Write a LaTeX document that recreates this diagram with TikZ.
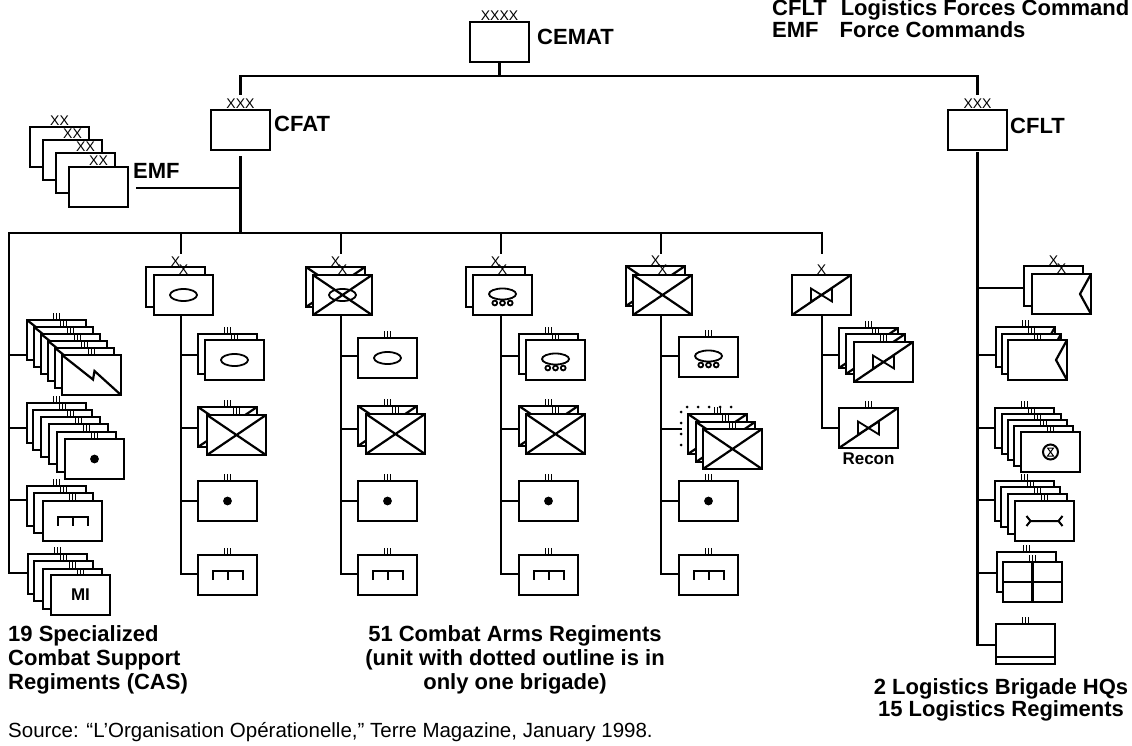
\documentclass[tikz,border=0pt]{standalone}
\usepackage{fontspec}
\setmainfont{Liberation Sans}
\usetikzlibrary{arrows.meta,positioning,calc}
\tikzset{
  conn/.style={line width=2.2pt, line cap=rect},
  tickmark/.style={line width=1.1pt},
  sym/.style={line width=1.8pt},
  unit/.style={draw, fill=white, line width=2.2pt, minimum width=59pt, minimum height=40pt, anchor=north west, inner sep=0pt, outer sep=0pt, font=\bfseries\fontsize{17}{17}\selectfont},
  reg/.style={unit, append after command={
    ([xshift=-3pt]\tikzlastnode.north) edge[tickmark] ([xshift=-3pt,yshift=7pt]\tikzlastnode.north)
    (\tikzlastnode.north) edge[tickmark] ([yshift=7pt]\tikzlastnode.north)
    ([xshift=3pt]\tikzlastnode.north) edge[tickmark] ([xshift=3pt,yshift=7pt]\tikzlastnode.north)}},
  ech/.style={font=\fontsize{14}{14}\selectfont, inner sep=0pt, outer sep=1pt},
  bde/.style={unit, label={[ech]90:X}},
  div/.style={unit, label={[ech]90:XX}},
  corps/.style={unit, label={[ech]90:XXX}},
  lbl/.style={font=\bfseries\fontsize{22}{24}\selectfont, inner sep=0pt, anchor=west},
  mc/.style={path picture={\draw[sym] (path picture bounding box.center) ellipse (13.5 and 6);}},
  cross/.style={path picture={
    \draw[conn] (path picture bounding box.north west) -- (path picture bounding box.south east)
      (path picture bounding box.north east) -- (path picture bounding box.south west);}},
  crossmc/.style={path picture={
    \draw[conn] (path picture bounding box.north west) -- (path picture bounding box.south east)
      (path picture bounding box.north east) -- (path picture bounding box.south west);
    \draw[sym] (path picture bounding box.center) ellipse (13.5 and 6);}},
  wheel/.style={path picture={
    \draw[sym] ([yshift=1pt]path picture bounding box.center) ellipse (13.5 and 5.5);
    \foreach \d in {-7.7,0,7.7}
      \draw[sym] ([shift={(\d,8)}]path picture bounding box.center) circle (2.4);}},
  dot/.style={path picture={\fill[black] (path picture bounding box.center) circle (4.4);}},
  comb/.style={path picture={
    \draw[line width=2pt] ([shift={(-15,4.5)}]path picture bounding box.center) -- ++(0,-9) -- ++(30,0) -- ++(0,9)
      (path picture bounding box.center) ++(0,-4.5) -- ++(0,9);}},
  bolt/.style={path picture={
    \draw[conn] (path picture bounding box.north west) -- ([shift={(1.5,4.5)}]path picture bounding box.center)
      -- ([shift={(3,-4)}]path picture bounding box.center) -- (path picture bounding box.south east);}},
  recon/.style={path picture={
    \draw[conn] (path picture bounding box.south west) -- (path picture bounding box.north east);
    \draw[sym] ([shift={(-10.5,-6.5)}]path picture bounding box.center) -- ++(21,13) -- ++(0,-13) -- ++(-21,13) -- cycle;}},
  notch/.style={path picture={
    \draw[conn] (path picture bounding box.north east) -- ([xshift=-11pt]path picture bounding box.east) -- (path picture bounding box.south east);}},
  ordn/.style={path picture={
    \draw[line width=2pt] (path picture bounding box.center) circle (7.5);
    \draw[line width=1pt] ([shift={(-3,-4)}]path picture bounding box.center) -- ++(6,0) -- ++(-6,8) -- ++(6,0) -- cycle;}},
  bone/.style={path picture={
    \draw[line width=2pt] ([shift={(-18,-5)}]path picture bounding box.center) -- ++(4,5) -- ++(-4,5)
      ([shift={(-14,0)}]path picture bounding box.center) -- ++(28,0)
      ([shift={(18,-5)}]path picture bounding box.center) -- ++(-4,5) -- ++(4,5);}},
  quad/.style={path picture={
    \draw[conn] (path picture bounding box.north) -- (path picture bounding box.south)
      (path picture bounding box.west) -- (path picture bounding box.east);}},
  bar/.style={path picture={
    \draw[conn] ([yshift=7pt]path picture bounding box.south west) -- ([yshift=7pt]path picture bounding box.south east);}}
}
\begin{document}
\begin{tikzpicture}[x=1pt,y=-1pt]
\useasboundingbox (0,0) rectangle (1132,746);
% headquarters
\node[unit, label={[ech]90:XXXX}] (cemat) at (470,22) {};
\node[lbl, right=8pt of cemat.east, yshift=5pt] (cematlbl) {CEMAT};
\node[corps] (cfat) at (211,110) {};
\node[lbl, right=4pt of cfat.east, yshift=6pt] (cfatlbl) {CFAT};
\node[corps] (cflt) at (948,110) {};
\node[lbl, right=3pt of cflt.east, yshift=4pt] (cfltlbl) {CFLT};
\foreach \x/\y [count=\i] in {30/127,43/140,56/153,69/167}
  \node[div] (emf\i) at (\x,\y) {};
\node[lbl] (emflbl) at (133,171) {EMF};
\coordinate (topbus) at (499.5,76);
\coordinate (midbus) at (240.5,233);
\coordinate (emfend) at (137,188);
\draw[conn] (cemat.south) -- (topbus);
\draw[conn] (cfat.north |- topbus) -- (cflt.north |- topbus);
\draw[conn] (cfat.north |- topbus) -- ++(0,18);
\draw[conn] (cflt.north |- topbus) -- ++(0,18);
\draw[conn] ([yshift=-7pt]cfat.south) -- (midbus);
\draw[conn] (emfend) -- (midbus |- emfend);
% rails
\coordinate (raila) at (9,233);
\coordinate (railb) at (181,233);
\coordinate (railc) at (341,233);
\coordinate (raild) at (501,233);
\coordinate (raile) at (661,233);
\coordinate (railf) at (822,233);
\coordinate (railg) at (978,233);
\draw[conn] (raila) -- (railf);
\foreach \c in {railb,railc,raild,raile,railf}
  \draw[conn] (\c) -- ++(0,20);
% support regiments
\foreach \x/\y [count=\i] in {27/320,34/327,41/334,48/341,55/348,62/355}
  \node[reg, bolt] (sig\i) at (\x,\y) {};
\foreach \x/\y [count=\i] in {27/403,33/410,41/417,49/424,57/432}
  \node[reg] (art\i) at (\x,\y) {};
\node[reg, dot] (art6) at (65,439) {};
\foreach \x/\y [count=\i] in {27/486,34/493}
  \node[reg] (eng\i) at (\x,\y) {};
\node[reg, comb] (eng3) at (43,501) {};
\foreach \x/\y [count=\i] in {28/554,34/561,43/569}
  \node[reg] (mi\i) at (\x,\y) {};
\node[reg] (mi4) at (51,575) {MI};
\draw[conn] (raila) -- (raila |- 0,573);
\foreach \n/\y in {sig1/355,art1/428,eng1/500,mi1/573}
  \draw[conn] (raila |- 0,\y) -- (\n.west |- 0,\y);
% brigade b
\node[bde] (bb1) at (146,267) {};
\node[bde, mc] (bb2) at (154,275) {};
\node[reg] (bbi1) at (198,334) {};
\node[reg, mc] (bbi2) at (205,340) {};
\node[reg, cross] (bbii1) at (198,407) {};
\node[reg, cross] (bbii2) at (207,415) {};
\node[reg, dot] (bbiii) at (198,481) {};
\node[reg, comb] (bbiv) at (198,555) {};
\draw[conn] (bb2.south -| railb) -- (railb |- 0,574);
\foreach \n/\y in {bbi1/355,bbii1/428,bbiii/501,bbiv/574}
  \draw[conn] (railb |- 0,\y) -- (\n.west |- 0,\y);
% brigade c
\node[bde, cross] (cb1) at (306,267) {};
\node[bde, crossmc] (cb2) at (313,275) {};
\node[reg, mc] (cbi) at (358,338) {};
\node[reg, cross] (cbii1) at (358,406) {};
\node[reg, cross] (cbii2) at (366,414) {};
\node[reg, dot] (cbiii) at (358,481) {};
\node[reg, comb] (cbiv) at (358,555) {};
\draw[conn] (cb2.south -| railc) -- (railc |- 0,574);
\foreach \n/\y in {cbi/356,cbii1/429,cbiii/501,cbiv/574}
  \draw[conn] (railc |- 0,\y) -- (\n.west |- 0,\y);
% brigade d
\node[bde] (db1) at (466,267) {};
\node[bde, wheel] (db2) at (473,275) {};
\node[reg] (dbi1) at (519,334) {};
\node[reg, wheel] (dbi2) at (526,340) {};
\node[reg, cross] (dbii1) at (519,406) {};
\node[reg, cross] (dbii2) at (526,414) {};
\node[reg, dot] (dbiii) at (519,481) {};
\node[reg, comb] (dbiv) at (519,555) {};
\draw[conn] (db2.south -| raild) -- (raild |- 0,574);
\foreach \n/\y in {dbi1/356,dbii1/429,dbiii/501,dbiv/574}
  \draw[conn] (raild |- 0,\y) -- (\n.west |- 0,\y);
% brigade e
\node[bde, cross] (eb1) at (626,266) {};
\node[bde, cross] (eb2) at (633,275) {};
\node[reg, wheel] (ebi) at (679,337) {};
\foreach \x/\y [count=\i] in {688/414,696/422,703/429}
  \node[reg, cross] (ebii\i) at (\x,\y) {};
\node[reg, dot] (ebiii) at (679,481) {};
\node[reg, comb] (ebiv) at (679,555) {};
\coordinate (dotted) at (681,407);
\draw[line width=3pt, line cap=round, dash pattern=on 0pt off 11pt] (681,445) -- (dotted) -- (740,407);
\draw[conn] (eb2.south -| raile) -- (raile |- 0,574);
\foreach \n/\y in {ebi.west/356,dotted/429,ebiii.west/501,ebiv.west/574}
  \draw[conn] (raile |- 0,\y) -- (\n |- 0,\y);
% brigade f
\node[bde, recon] (fb) at (792,275) {};
\foreach \x/\y [count=\i] in {839/328,846/334,854/342}
  \node[reg, recon] (fbi\i) at (\x,\y) {};
\node[reg, recon] (fbii) at (839,408) {};
\node[lbl, below=5pt of fbii.south, anchor=north, font=\bfseries\fontsize{17}{17}\selectfont] (reconlbl) {Recon};
\draw[conn] (fb.south -| railf) -- (railf |- 0,428);
\foreach \n/\y in {fbi1/355,fbii/428}
  \draw[conn] (railf |- 0,\y) -- (\n.west |- 0,\y);
% logistics
\node[bde] (lb1) at (1024,266) {};
\node[bde, notch] (lb2) at (1032,274) {};
\foreach \x/\y [count=\i] in {996/327,1002/334,1008/340}
  \node[reg, notch] (lr\i) at (\x,\y) {};
\foreach \x/\y [count=\i] in {995/408,1002/414,1008/420,1014/426}
  \node[reg] (ls\i) at (\x,\y) {};
\node[reg, ordn] (ls5) at (1021,432) {};
\foreach \x/\y [count=\i] in {995/481,1001/487,1008/494}
  \node[reg] (lt\i) at (\x,\y) {};
\node[reg, bone] (lt4) at (1015,501) {};
\node[reg] (lu1) at (997,552) {};
\node[reg, quad] (lu2) at (1003,562) {};
\node[reg, bar] (lv) at (996,624) {};
\draw[conn] ([yshift=-3pt]cflt.south) -- (cflt.south |- 0,645);
\foreach \n/\y in {lb1/288,lr1/355,ls1/428,lt1/500,lu1/573,lv/645}
  \draw[conn] (railg |- 0,\y) -- (\n.west |- 0,\y);
% captions
\node[lbl, anchor=base west] (keya) at (772,16) {CFLT\hspace{14pt}Logistics Forces Command};
\node[lbl, anchor=base west] (keyb) at (772,38) {EMF\hspace{21pt}Force Commands};
\node[lbl, anchor=north west, align=left] (caslbl) at (8,625) {19 Specialized\\Combat Support\\Regiments (CAS)};
\node[lbl, anchor=north, align=center] (armslbl) at (515,625) {51 Combat Arms Regiments\\(unit with dotted outline is in\\only one brigade)};
\node[lbl, anchor=north, align=center, font=\bfseries\fontsize{22}{22}\selectfont] (loglbl) at (1001,678) {2 Logistics Brigade HQs\\15 Logistics Regiments};
\node[lbl, anchor=west, font=\fontsize{20.5}{22}\selectfont] (srclbl) at (8,732) {Source: “L'Organisation Opérationelle,” Terre Magazine, January 1998.};
\end{tikzpicture}
\end{document}
